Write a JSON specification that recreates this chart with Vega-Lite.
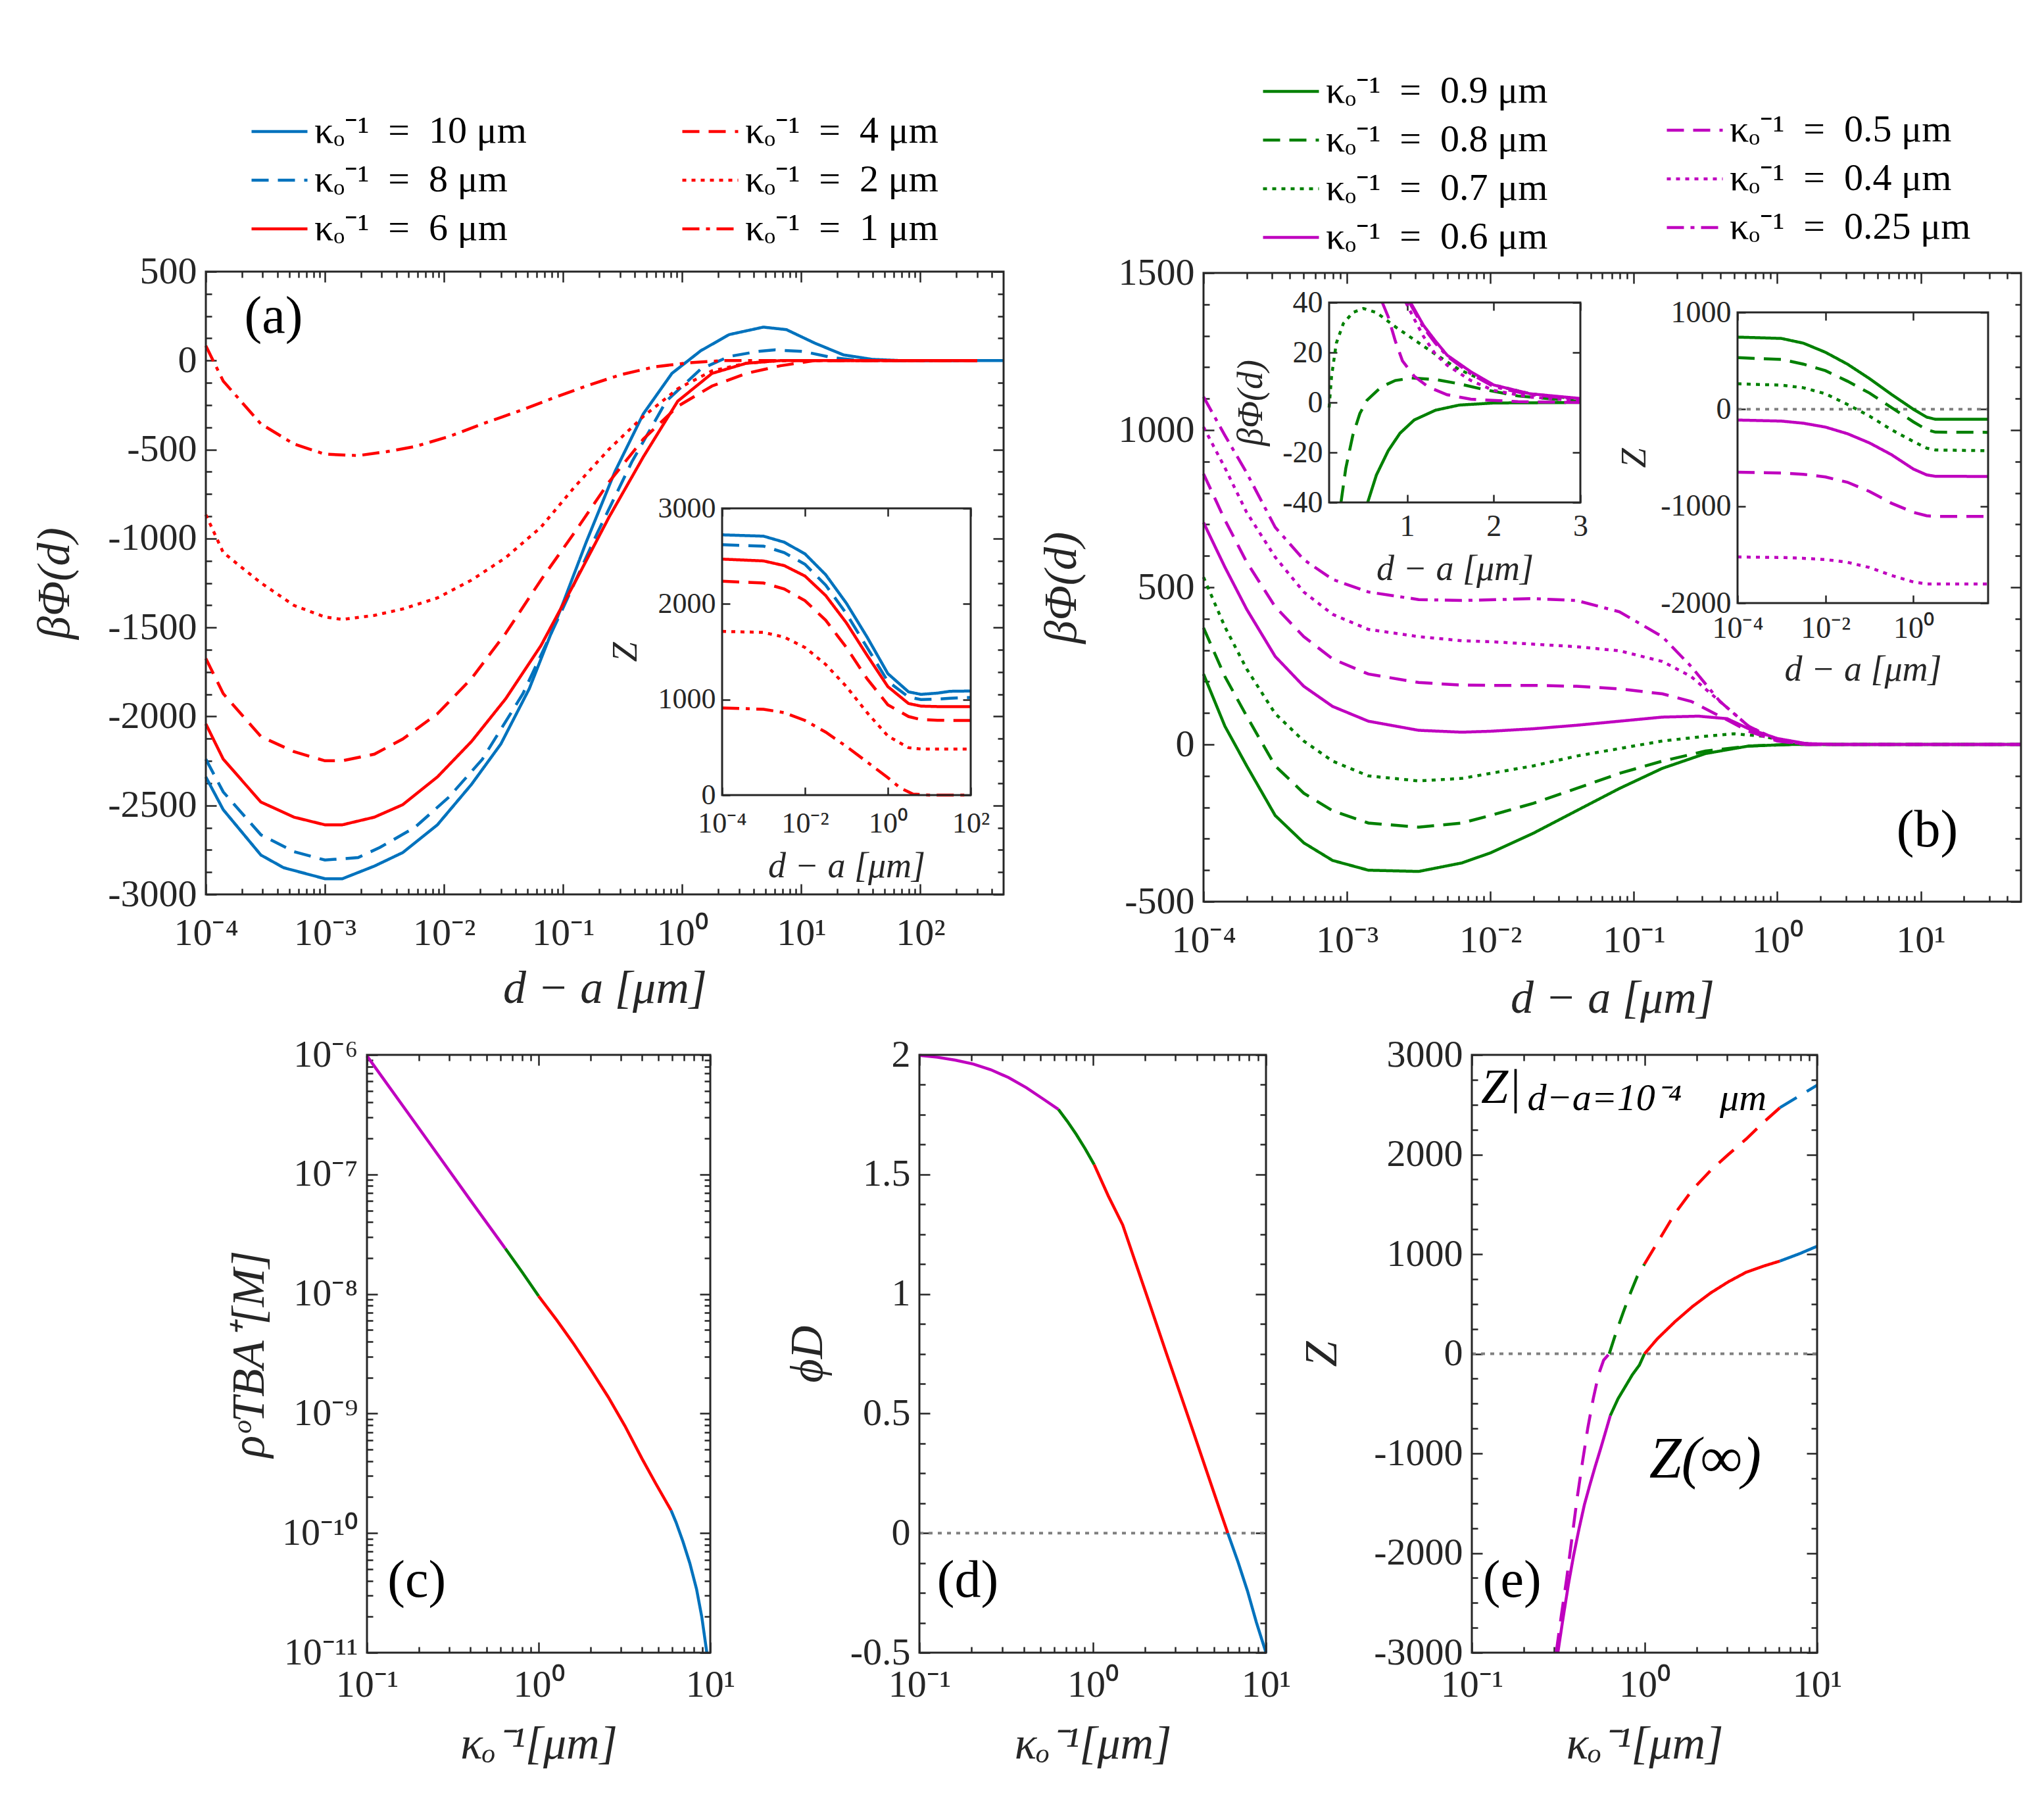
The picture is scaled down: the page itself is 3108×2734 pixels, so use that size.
{
  "$schema": "https://vega.github.io/schema/vega-lite/v6.json",
  "width": 3108,
  "height": 2734,
  "padding": 0,
  "autosize": {"type": "none"},
  "background": "white",
  "config": {
    "view": {"stroke": null},
    "font": "Liberation Serif",
    "axis": {
      "grid": false, "domain": false, "tickColor": "#262626", "tickWidth": 2.5,
      "labelColor": "#262626", "titleColor": "#262626",
      "labelFont": "Liberation Serif", "titleFont": "Liberation Serif",
      "labelFlush": false, "labelOverlap": false, "labelFontSize": 58,
      "titleFontSize": 70, "titleFontWeight": "normal", "titleFontStyle": "italic",
      "tickSize": -16, "labelPadding": 30, "titlePadding": 20
    }
  },
  "datasets": {
    "aMain": [
      {"k":"10","x":1e-4,"y":-2340},{"k":"10","x":1.4e-4,"y":-2524},{"k":"10","x":2.9e-4,"y":-2779},{"k":"10","x":4.5e-4,"y":-2850},{"k":"10","x":1e-3,"y":-2912},{"k":"10","x":1.4e-3,"y":-2912},{"k":"10","x":2.6e-3,"y":-2841},{"k":"10","x":4.5e-3,"y":-2765},{"k":"10","x":8.8e-3,"y":-2609},{"k":"10","x":0.017,"y":-2382},{"k":"10","x":0.03,"y":-2155},{"k":"10","x":0.052,"y":-1844},{"k":"10","x":0.1,"y":-1362},{"k":"10","x":0.156,"y":-1022},{"k":"10","x":0.272,"y":-625},{"k":"10","x":0.472,"y":-299},{"k":"10","x":0.82,"y":-72},{"k":"10","x":1.43,"y":55},{"k":"10","x":2.48,"y":146},{"k":"10","x":4.8,"y":188},{"k":"10","x":7.5,"y":174},{"k":"10","x":13,"y":98},{"k":"10","x":22.6,"y":32},{"k":"10","x":39.4,"y":7},{"k":"10","x":68,"y":0},{"k":"10","x":500,"y":0},
      {"k":"8","x":1e-4,"y":-2240},{"k":"8","x":1.4e-4,"y":-2424},{"k":"8","x":2.9e-4,"y":-2665},{"k":"8","x":5.5e-4,"y":-2760},{"k":"8","x":1e-3,"y":-2807},{"k":"8","x":1.9e-3,"y":-2793},{"k":"8","x":2.9e-3,"y":-2736},{"k":"8","x":5.7e-3,"y":-2623},{"k":"8","x":0.011,"y":-2453},{"k":"8","x":0.021,"y":-2240},{"k":"8","x":0.046,"y":-1872},{"k":"8","x":0.1,"y":-1390},{"k":"8","x":0.195,"y":-965},{"k":"8","x":0.378,"y":-569},{"k":"8","x":0.735,"y":-228},{"k":"8","x":1.43,"y":-48},{"k":"8","x":2.48,"y":23},{"k":"8","x":4.3,"y":51},{"k":"8","x":6,"y":60},{"k":"8","x":10.4,"y":51},{"k":"8","x":18.2,"y":17},{"k":"8","x":31.6,"y":0},{"k":"8","x":300,"y":0},
      {"k":"6","x":1e-4,"y":-2042},{"k":"6","x":1.4e-4,"y":-2240},{"k":"6","x":2.9e-4,"y":-2481},{"k":"6","x":5.5e-4,"y":-2566},{"k":"6","x":1e-3,"y":-2609},{"k":"6","x":1.4e-3,"y":-2609},{"k":"6","x":2.6e-3,"y":-2566},{"k":"6","x":4.5e-3,"y":-2496},{"k":"6","x":8.8e-3,"y":-2340},{"k":"6","x":0.017,"y":-2141},{"k":"6","x":0.033,"y":-1900},{"k":"6","x":0.065,"y":-1603},{"k":"6","x":0.125,"y":-1249},{"k":"6","x":0.243,"y":-880},{"k":"6","x":0.472,"y":-541},{"k":"6","x":0.918,"y":-228},{"k":"6","x":1.78,"y":-72},{"k":"6","x":3.46,"y":-15},{"k":"6","x":6.7,"y":0},{"k":"6","x":300,"y":0},
      {"k":"4","x":1e-4,"y":-1674},{"k":"4","x":1.4e-4,"y":-1872},{"k":"4","x":2.9e-4,"y":-2113},{"k":"4","x":5.5e-4,"y":-2198},{"k":"4","x":1e-3,"y":-2249},{"k":"4","x":1.4e-3,"y":-2249},{"k":"4","x":2.6e-3,"y":-2212},{"k":"4","x":4.5e-3,"y":-2127},{"k":"4","x":8.8e-3,"y":-1985},{"k":"4","x":0.017,"y":-1787},{"k":"4","x":0.033,"y":-1532},{"k":"4","x":0.065,"y":-1234},{"k":"4","x":0.125,"y":-965},{"k":"4","x":0.243,"y":-682},{"k":"4","x":0.472,"y":-441},{"k":"4","x":0.918,"y":-257},{"k":"4","x":1.78,"y":-143},{"k":"4","x":3.46,"y":-72},{"k":"4","x":6.7,"y":-29},{"k":"4","x":13,"y":0},{"k":"4","x":300,"y":0},
      {"k":"2","x":1e-4,"y":-866},{"k":"2","x":1.4e-4,"y":-1079},{"k":"2","x":2.9e-4,"y":-1249},{"k":"2","x":5.5e-4,"y":-1376},{"k":"2","x":1e-3,"y":-1441},{"k":"2","x":1.4e-3,"y":-1455},{"k":"2","x":2.6e-3,"y":-1432},{"k":"2","x":4.5e-3,"y":-1396},{"k":"2","x":8.8e-3,"y":-1334},{"k":"2","x":0.017,"y":-1234},{"k":"2","x":0.033,"y":-1107},{"k":"2","x":0.065,"y":-937},{"k":"2","x":0.125,"y":-710},{"k":"2","x":0.243,"y":-498},{"k":"2","x":0.472,"y":-314},{"k":"2","x":0.918,"y":-158},{"k":"2","x":1.78,"y":-58},{"k":"2","x":3.46,"y":-15},{"k":"2","x":6.7,"y":0},{"k":"2","x":300,"y":0},
      {"k":"1","x":1e-4,"y":83},{"k":"1","x":1.4e-4,"y":-115},{"k":"1","x":2.9e-4,"y":-356},{"k":"1","x":5.5e-4,"y":-469},{"k":"1","x":1e-3,"y":-526},{"k":"1","x":1.9e-3,"y":-534},{"k":"1","x":3.3e-3,"y":-512},{"k":"1","x":5.7e-3,"y":-483},{"k":"1","x":0.011,"y":-427},{"k":"1","x":0.021,"y":-356},{"k":"1","x":0.042,"y":-285},{"k":"1","x":0.08,"y":-214},{"k":"1","x":0.156,"y":-143},{"k":"1","x":0.303,"y":-80},{"k":"1","x":0.589,"y":-35},{"k":"1","x":1.15,"y":-12},{"k":"1","x":2.2,"y":0},{"k":"1","x":300,"y":0}
    ],
    "aIns": [
      {"k":"10","x":1e-4,"y":2723},{"k":"10","x":1e-3,"y":2709},{"k":"10","x":3.16e-3,"y":2646},{"k":"10","x":0.01,"y":2524},{"k":"10","x":0.0316,"y":2306},{"k":"10","x":0.1,"y":2007},{"k":"10","x":0.316,"y":1653},{"k":"10","x":1,"y":1271},{"k":"10","x":3.16,"y":1080},{"k":"10","x":6.31,"y":1054},{"k":"10","x":15.8,"y":1067},{"k":"10","x":31.6,"y":1086},{"k":"10","x":100,"y":1089},
      {"k":"8","x":1e-4,"y":2619},{"k":"8","x":1e-3,"y":2605},{"k":"8","x":3.16e-3,"y":2537},{"k":"8","x":0.01,"y":2415},{"k":"8","x":0.0316,"y":2197},{"k":"8","x":0.1,"y":1898},{"k":"8","x":0.316,"y":1544},{"k":"8","x":1,"y":1190},{"k":"8","x":3.16,"y":1026},{"k":"8","x":6.31,"y":999},{"k":"8","x":15.8,"y":1005},{"k":"8","x":31.6,"y":1013},{"k":"8","x":100,"y":1021},
      {"k":"6","x":1e-4,"y":2469},{"k":"6","x":1e-3,"y":2450},{"k":"6","x":3.16e-3,"y":2401},{"k":"6","x":0.01,"y":2292},{"k":"6","x":0.0316,"y":2088},{"k":"6","x":0.1,"y":1802},{"k":"6","x":0.316,"y":1462},{"k":"6","x":1,"y":1135},{"k":"6","x":3.16,"y":958},{"k":"6","x":6.31,"y":931},{"k":"6","x":15.8,"y":926},{"k":"6","x":31.6,"y":926},{"k":"6","x":100,"y":926},
      {"k":"4","x":1e-4,"y":2238},{"k":"4","x":1e-3,"y":2219},{"k":"4","x":3.16e-3,"y":2156},{"k":"4","x":0.01,"y":2034},{"k":"4","x":0.0316,"y":1830},{"k":"4","x":0.1,"y":1544},{"k":"4","x":0.316,"y":1217},{"k":"4","x":1,"y":945},{"k":"4","x":3.16,"y":822},{"k":"4","x":6.31,"y":790},{"k":"4","x":15.8,"y":783},{"k":"4","x":31.6,"y":781},{"k":"4","x":100,"y":781},
      {"k":"2","x":1e-4,"y":1713},{"k":"2","x":1e-3,"y":1702},{"k":"2","x":3.16e-3,"y":1653},{"k":"2","x":0.01,"y":1544},{"k":"2","x":0.0316,"y":1367},{"k":"2","x":0.1,"y":1135},{"k":"2","x":0.316,"y":863},{"k":"2","x":1,"y":618},{"k":"2","x":3.16,"y":496},{"k":"2","x":6.31,"y":482},{"k":"2","x":15.8,"y":482},{"k":"2","x":31.6,"y":482},{"k":"2","x":100,"y":482},
      {"k":"1","x":1e-4,"y":912},{"k":"1","x":1e-3,"y":898},{"k":"1","x":3.16e-3,"y":863},{"k":"1","x":0.01,"y":781},{"k":"1","x":0.0316,"y":659},{"k":"1","x":0.1,"y":509},{"k":"1","x":0.316,"y":346},{"k":"1","x":1,"y":182},{"k":"1","x":2,"y":74},{"k":"1","x":4,"y":11},{"k":"1","x":10,"y":0},{"k":"1","x":100,"y":0}
    ],
    "bMain": [
      {"k":"0.9","x":1e-4,"y":224},{"k":"0.9","x":1.41e-4,"y":58},{"k":"0.9","x":2e-4,"y":-68},{"k":"0.9","x":3.16e-4,"y":-226},{"k":"0.9","x":5e-4,"y":-313},{"k":"0.9","x":7.94e-4,"y":-369},{"k":"0.9","x":1.41e-3,"y":-400},{"k":"0.9","x":3.16e-3,"y":-404},{"k":"0.9","x":6.31e-3,"y":-377},{"k":"0.9","x":0.01,"y":-345},{"k":"0.9","x":0.02,"y":-282},{"k":"0.9","x":0.0398,"y":-211},{"k":"0.9","x":0.0794,"y":-140},{"k":"0.9","x":0.158,"y":-76},{"k":"0.9","x":0.316,"y":-29},{"k":"0.9","x":0.631,"y":-5},{"k":"0.9","x":1.26,"y":0},{"k":"0.9","x":50,"y":0},
      {"k":"0.8","x":1e-4,"y":371},{"k":"0.8","x":1.41e-4,"y":216},{"k":"0.8","x":2e-4,"y":90},{"k":"0.8","x":3.16e-4,"y":-68},{"k":"0.8","x":5e-4,"y":-155},{"k":"0.8","x":7.94e-4,"y":-211},{"k":"0.8","x":1.41e-3,"y":-250},{"k":"0.8","x":3.16e-3,"y":-263},{"k":"0.8","x":6.31e-3,"y":-250},{"k":"0.8","x":0.01,"y":-226},{"k":"0.8","x":0.02,"y":-187},{"k":"0.8","x":0.0398,"y":-140},{"k":"0.8","x":0.0794,"y":-92},{"k":"0.8","x":0.158,"y":-53},{"k":"0.8","x":0.316,"y":-21},{"k":"0.8","x":0.631,"y":-5},{"k":"0.8","x":1.26,"y":0},{"k":"0.8","x":50,"y":0},
      {"k":"0.7","x":1e-4,"y":532},{"k":"0.7","x":1.41e-4,"y":374},{"k":"0.7","x":2e-4,"y":240},{"k":"0.7","x":3.16e-4,"y":98},{"k":"0.7","x":5e-4,"y":11},{"k":"0.7","x":7.94e-4,"y":-53},{"k":"0.7","x":1.41e-3,"y":-100},{"k":"0.7","x":3.16e-3,"y":-116},{"k":"0.7","x":6.31e-3,"y":-108},{"k":"0.7","x":0.01,"y":-92},{"k":"0.7","x":0.02,"y":-68},{"k":"0.7","x":0.0398,"y":-37},{"k":"0.7","x":0.0794,"y":-13},{"k":"0.7","x":0.158,"y":11},{"k":"0.7","x":0.316,"y":26},{"k":"0.7","x":0.501,"y":34},{"k":"0.7","x":0.794,"y":26},{"k":"0.7","x":1.26,"y":6},{"k":"0.7","x":2,"y":0},{"k":"0.7","x":50,"y":0},
      {"k":"0.6","x":1e-4,"y":706},{"k":"0.6","x":1.41e-4,"y":564},{"k":"0.6","x":2e-4,"y":430},{"k":"0.6","x":3.16e-4,"y":280},{"k":"0.6","x":5e-4,"y":185},{"k":"0.6","x":7.94e-4,"y":121},{"k":"0.6","x":1.41e-3,"y":74},{"k":"0.6","x":3.16e-3,"y":45},{"k":"0.6","x":6.31e-3,"y":39},{"k":"0.6","x":0.01,"y":42},{"k":"0.6","x":0.02,"y":50},{"k":"0.6","x":0.0398,"y":61},{"k":"0.6","x":0.0794,"y":74},{"k":"0.6","x":0.158,"y":87},{"k":"0.6","x":0.282,"y":90},{"k":"0.6","x":0.447,"y":82},{"k":"0.6","x":0.631,"y":50},{"k":"0.6","x":1,"y":19},{"k":"0.6","x":1.58,"y":3},{"k":"0.6","x":2.51,"y":0},{"k":"0.6","x":50,"y":0},
      {"k":"0.5","x":1e-4,"y":861},{"k":"0.5","x":1.41e-4,"y":714},{"k":"0.5","x":2e-4,"y":580},{"k":"0.5","x":3.16e-4,"y":438},{"k":"0.5","x":5e-4,"y":343},{"k":"0.5","x":7.94e-4,"y":272},{"k":"0.5","x":1.41e-3,"y":224},{"k":"0.5","x":3.16e-3,"y":197},{"k":"0.5","x":6.31e-3,"y":189},{"k":"0.5","x":0.01,"y":188},{"k":"0.5","x":0.02,"y":188},{"k":"0.5","x":0.0398,"y":185},{"k":"0.5","x":0.0794,"y":177},{"k":"0.5","x":0.158,"y":161},{"k":"0.5","x":0.251,"y":137},{"k":"0.5","x":0.398,"y":90},{"k":"0.5","x":0.631,"y":42},{"k":"0.5","x":1,"y":11},{"k":"0.5","x":1.58,"y":0},{"k":"0.5","x":50,"y":0},
      {"k":"0.4","x":1e-4,"y":1010},{"k":"0.4","x":1.41e-4,"y":880},{"k":"0.4","x":2e-4,"y":738},{"k":"0.4","x":3.16e-4,"y":596},{"k":"0.4","x":5e-4,"y":485},{"k":"0.4","x":7.94e-4,"y":414},{"k":"0.4","x":1.41e-3,"y":366},{"k":"0.4","x":3.16e-3,"y":343},{"k":"0.4","x":6.31e-3,"y":330},{"k":"0.4","x":0.01,"y":327},{"k":"0.4","x":0.02,"y":319},{"k":"0.4","x":0.0398,"y":311},{"k":"0.4","x":0.0794,"y":298},{"k":"0.4","x":0.158,"y":264},{"k":"0.4","x":0.251,"y":216},{"k":"0.4","x":0.398,"y":137},{"k":"0.4","x":0.631,"y":58},{"k":"0.4","x":1,"y":14},{"k":"0.4","x":1.58,"y":0},{"k":"0.4","x":50,"y":0},
      {"k":"0.25","x":1e-4,"y":1106},{"k":"0.25","x":1.41e-4,"y":983},{"k":"0.25","x":2e-4,"y":864},{"k":"0.25","x":3.16e-4,"y":691},{"k":"0.25","x":5e-4,"y":588},{"k":"0.25","x":7.94e-4,"y":525},{"k":"0.25","x":1.41e-3,"y":485},{"k":"0.25","x":3.16e-3,"y":461},{"k":"0.25","x":6.31e-3,"y":458},{"k":"0.25","x":0.01,"y":460},{"k":"0.25","x":0.02,"y":464},{"k":"0.25","x":0.0398,"y":458},{"k":"0.25","x":0.0794,"y":422},{"k":"0.25","x":0.158,"y":343},{"k":"0.25","x":0.251,"y":248},{"k":"0.25","x":0.398,"y":137},{"k":"0.25","x":0.631,"y":58},{"k":"0.25","x":1,"y":14},{"k":"0.25","x":1.58,"y":0},{"k":"0.25","x":50,"y":0}
    ],
    "bLeft": [
      {"k":"0.9","x":0.545,"y":-40},{"k":"0.9","x":0.646,"y":-29},{"k":"0.9","x":0.782,"y":-19.3},{"k":"0.9","x":0.918,"y":-12.3},{"k":"0.9","x":1.082,"y":-7},{"k":"0.9","x":1.327,"y":-3.1},{"k":"0.9","x":1.6,"y":-1.05},{"k":"0.9","x":2,"y":-0.2},{"k":"0.9","x":3,"y":0},
      {"k":"0.8","x":0.237,"y":-40},{"k":"0.8","x":0.292,"y":-26.4},{"k":"0.8","x":0.373,"y":-13.2},{"k":"0.8","x":0.455,"y":-4.4},{"k":"0.8","x":0.537,"y":0.9},{"k":"0.8","x":0.7,"y":6.2},{"k":"0.8","x":0.864,"y":8.8},{"k":"0.8","x":1.054,"y":9.8},{"k":"0.8","x":1.327,"y":9.2},{"k":"0.8","x":1.6,"y":7.5},{"k":"0.8","x":1.872,"y":5.3},{"k":"0.8","x":2.28,"y":2.6},{"k":"0.8","x":3,"y":0.4},
      {"k":"0.7","x":0.1,"y":-2},{"k":"0.7","x":0.128,"y":10.5},{"k":"0.7","x":0.183,"y":23.7},{"k":"0.7","x":0.264,"y":31.6},{"k":"0.7","x":0.373,"y":36},{"k":"0.7","x":0.496,"y":37.6},{"k":"0.7","x":0.646,"y":36},{"k":"0.7","x":0.864,"y":30.3},{"k":"0.7","x":1.082,"y":25.1},{"k":"0.7","x":1.327,"y":19.3},{"k":"0.7","x":1.6,"y":13.2},{"k":"0.7","x":2,"y":7},{"k":"0.7","x":2.417,"y":3.5},{"k":"0.7","x":3,"y":1.3},
      {"k":"0.6","x":1.04,"y":40},{"k":"0.6","x":1.19,"y":30.8},{"k":"0.6","x":1.327,"y":24.6},{"k":"0.6","x":1.463,"y":18.9},{"k":"0.6","x":1.736,"y":12.3},{"k":"0.6","x":2,"y":7},{"k":"0.6","x":2.417,"y":3.5},{"k":"0.6","x":3,"y":1.6},
      {"k":"0.5","x":0.714,"y":40},{"k":"0.5","x":0.782,"y":34.3},{"k":"0.5","x":0.864,"y":24.6},{"k":"0.5","x":0.946,"y":16.7},{"k":"0.5","x":1.082,"y":10.5},{"k":"0.5","x":1.245,"y":6.2},{"k":"0.5","x":1.463,"y":3.1},{"k":"0.5","x":1.736,"y":1.3},{"k":"0.5","x":2.28,"y":0.3},{"k":"0.5","x":3,"y":0},
      {"k":"0.4","x":0.986,"y":40},{"k":"0.4","x":1.082,"y":33.4},{"k":"0.4","x":1.19,"y":26.4},{"k":"0.4","x":1.327,"y":19.3},{"k":"0.4","x":1.463,"y":14.9},{"k":"0.4","x":1.736,"y":8.8},{"k":"0.4","x":2,"y":4.8},{"k":"0.4","x":2.417,"y":2.2},{"k":"0.4","x":3,"y":0.6},
      {"k":"0.25","x":1.027,"y":40},{"k":"0.25","x":1.19,"y":29.9},{"k":"0.25","x":1.327,"y":23.7},{"k":"0.25","x":1.463,"y":18.5},{"k":"0.25","x":1.736,"y":11.4},{"k":"0.25","x":2,"y":6.3},{"k":"0.25","x":2.417,"y":3.1},{"k":"0.25","x":3,"y":1.3}
    ],
    "bRight": [
      {"k":"0.9","x":1e-4,"y":745},{"k":"0.9","x":1e-3,"y":731},{"k":"0.9","x":3.16e-3,"y":682},{"k":"0.9","x":0.01,"y":588},{"k":"0.9","x":0.0316,"y":466},{"k":"0.9","x":0.1,"y":317},{"k":"0.9","x":0.316,"y":154},{"k":"0.9","x":1,"y":0},{"k":"0.9","x":2,"y":-81},{"k":"0.9","x":3.16,"y":-103},{"k":"0.9","x":50,"y":-103},
      {"k":"0.8","x":1e-4,"y":533},{"k":"0.8","x":1e-3,"y":514},{"k":"0.8","x":3.16e-3,"y":466},{"k":"0.8","x":0.01,"y":398},{"k":"0.8","x":0.0316,"y":290},{"k":"0.8","x":0.1,"y":168},{"k":"0.8","x":0.316,"y":19},{"k":"0.8","x":1,"y":-130},{"k":"0.8","x":2,"y":-211},{"k":"0.8","x":3.16,"y":-236},{"k":"0.8","x":50,"y":-238},
      {"k":"0.7","x":1e-4,"y":263},{"k":"0.7","x":1e-3,"y":249},{"k":"0.7","x":3.16e-3,"y":222},{"k":"0.7","x":0.01,"y":160},{"k":"0.7","x":0.0316,"y":50},{"k":"0.7","x":0.1,"y":-70},{"k":"0.7","x":0.316,"y":-211},{"k":"0.7","x":1,"y":-333},{"k":"0.7","x":2,"y":-401},{"k":"0.7","x":3.16,"y":-420},{"k":"0.7","x":50,"y":-428},
      {"k":"0.6","x":1e-4,"y":-111},{"k":"0.6","x":1e-3,"y":-122},{"k":"0.6","x":3.16e-3,"y":-144},{"k":"0.6","x":0.01,"y":-184},{"k":"0.6","x":0.0316,"y":-252},{"k":"0.6","x":0.1,"y":-347},{"k":"0.6","x":0.316,"y":-468},{"k":"0.6","x":1,"y":-617},{"k":"0.6","x":2,"y":-677},{"k":"0.6","x":3.16,"y":-692},{"k":"0.6","x":50,"y":-693},
      {"k":"0.5","x":1e-4,"y":-650},{"k":"0.5","x":1e-3,"y":-658},{"k":"0.5","x":3.16e-3,"y":-671},{"k":"0.5","x":0.01,"y":-699},{"k":"0.5","x":0.0316,"y":-753},{"k":"0.5","x":0.1,"y":-848},{"k":"0.5","x":0.316,"y":-969},{"k":"0.5","x":1,"y":-1064},{"k":"0.5","x":2,"y":-1099},{"k":"0.5","x":3.16,"y":-1105},{"k":"0.5","x":50,"y":-1105},
      {"k":"0.4","x":1e-4,"y":-1524},{"k":"0.4","x":1e-3,"y":-1530},{"k":"0.4","x":3.16e-3,"y":-1538},{"k":"0.4","x":0.01,"y":-1551},{"k":"0.4","x":0.0316,"y":-1579},{"k":"0.4","x":0.1,"y":-1633},{"k":"0.4","x":0.316,"y":-1714},{"k":"0.4","x":1,"y":-1782},{"k":"0.4","x":2,"y":-1803},{"k":"0.4","x":3.16,"y":-1803},{"k":"0.4","x":50,"y":-1803}
    ],
    "cRho": [
      {"s":"m","x":0.1,"y":9.8e-7},{"s":"m","x":0.2,"y":2.45e-7},{"s":"m","x":0.4,"y":6.1e-8},{"s":"m","x":0.64,"y":2.4e-8},
      {"s":"g","x":0.64,"y":2.4e-8},{"s":"g","x":0.8,"y":1.53e-8},{"s":"g","x":1.0,"y":9.6e-9},
      {"s":"r","x":1.0,"y":9.6e-9},{"s":"r","x":1.28,"y":6.0e-9},{"s":"r","x":1.61,"y":3.78e-9},{"s":"r","x":2.02,"y":2.31e-9},{"s":"r","x":2.54,"y":1.38e-9},{"s":"r","x":3.18,"y":7.9e-10},{"s":"r","x":4.0,"y":4.2e-10},{"s":"r","x":4.81,"y":2.6e-10},{"s":"r","x":5.91,"y":1.55e-10},
      {"s":"b","x":5.91,"y":1.55e-10},{"s":"b","x":6.32,"y":1.23e-10},{"s":"b","x":6.93,"y":8.5e-11},{"s":"b","x":7.6,"y":5.6e-11},{"s":"b","x":8.32,"y":3.4e-11},{"s":"b","x":8.92,"y":2.0e-11},{"s":"b","x":9.55,"y":1e-11}
    ],
    "dPhi": [
      {"s":"m","x":0.1,"y":1.998},{"s":"m","x":0.127,"y":1.99},{"s":"m","x":0.161,"y":1.978},{"s":"m","x":0.204,"y":1.962},{"s":"m","x":0.258,"y":1.938},{"s":"m","x":0.327,"y":1.905},{"s":"m","x":0.414,"y":1.863},{"s":"m","x":0.524,"y":1.813},{"s":"m","x":0.634,"y":1.772},
      {"s":"g","x":0.634,"y":1.772},{"s":"g","x":0.714,"y":1.722},{"s":"g","x":0.803,"y":1.668},{"s":"g","x":0.905,"y":1.607},{"s":"g","x":1.02,"y":1.541},
      {"s":"r","x":1.02,"y":1.541},{"s":"r","x":1.23,"y":1.41},{"s":"r","x":1.49,"y":1.289},{"s":"r","x":1.79,"y":1.119},{"s":"r","x":2.17,"y":0.942},{"s":"r","x":2.63,"y":0.763},{"s":"r","x":3.18,"y":0.589},{"s":"r","x":3.85,"y":0.413},{"s":"r","x":4.65,"y":0.238},{"s":"r","x":5.35,"y":0.108},{"s":"r","x":6.02,"y":0},
      {"s":"b","x":6.02,"y":0},{"s":"b","x":6.9,"y":-0.121},{"s":"b","x":7.82,"y":-0.242},{"s":"b","x":8.8,"y":-0.373},{"s":"b","x":10,"y":-0.5}
    ],
    "eZ": [
      {"c":"inf","s":"m","x":0.315,"y":-3000},{"c":"inf","s":"m","x":0.338,"y":-2648},{"c":"inf","s":"m","x":0.363,"y":-2310},{"c":"inf","s":"m","x":0.389,"y":-2020},{"c":"inf","s":"m","x":0.418,"y":-1755},{"c":"inf","s":"m","x":0.449,"y":-1513},{"c":"inf","s":"m","x":0.482,"y":-1320},{"c":"inf","s":"m","x":0.517,"y":-1137},{"c":"inf","s":"m","x":0.556,"y":-958},{"c":"inf","s":"m","x":0.596,"y":-780},{"c":"inf","s":"m","x":0.634,"y":-620},
      {"c":"inf","s":"g","x":0.634,"y":-620},{"c":"inf","s":"g","x":0.703,"y":-451},{"c":"inf","s":"g","x":0.774,"y":-330},{"c":"inf","s":"g","x":0.851,"y":-210},{"c":"inf","s":"g","x":0.935,"y":-113},{"c":"inf","s":"g","x":1.0,"y":0},
      {"c":"inf","s":"r","x":1.0,"y":0},{"c":"inf","s":"r","x":1.19,"y":152},{"c":"inf","s":"r","x":1.5,"y":321},{"c":"inf","s":"r","x":1.9,"y":475},{"c":"inf","s":"r","x":2.42,"y":611},{"c":"inf","s":"r","x":3.06,"y":722},{"c":"inf","s":"r","x":3.88,"y":818},{"c":"inf","s":"r","x":4.9,"y":880},{"c":"inf","s":"r","x":6.08,"y":930},
      {"c":"inf","s":"b","x":6.08,"y":930},{"c":"inf","s":"b","x":7.93,"y":1005},{"c":"inf","s":"b","x":10,"y":1079},
      {"c":"d4","s":"m","x":0.308,"y":-3000},{"c":"d4","s":"m","x":0.33,"y":-2624},{"c":"d4","s":"m","x":0.354,"y":-2262},{"c":"d4","s":"m","x":0.38,"y":-1852},{"c":"d4","s":"m","x":0.408,"y":-1441},{"c":"d4","s":"m","x":0.438,"y":-1079},{"c":"d4","s":"m","x":0.47,"y":-741},{"c":"d4","s":"m","x":0.505,"y":-451},{"c":"d4","s":"m","x":0.542,"y":-209},{"c":"d4","s":"m","x":0.58,"y":-64},{"c":"d4","s":"m","x":0.625,"y":0},
      {"c":"d4","s":"g","x":0.625,"y":0},{"c":"d4","s":"g","x":0.688,"y":224},{"c":"d4","s":"g","x":0.754,"y":418},{"c":"d4","s":"g","x":0.83,"y":611},{"c":"d4","s":"g","x":0.91,"y":780},{"c":"d4","s":"g","x":1.0,"y":900},
      {"c":"d4","s":"r","x":1.0,"y":900},{"c":"d4","s":"r","x":1.19,"y":1117},{"c":"d4","s":"r","x":1.5,"y":1407},{"c":"d4","s":"r","x":1.9,"y":1648},{"c":"d4","s":"r","x":2.42,"y":1841},{"c":"d4","s":"r","x":3.06,"y":2000},{"c":"d4","s":"r","x":3.88,"y":2155},{"c":"d4","s":"r","x":4.9,"y":2324},{"c":"d4","s":"r","x":6.08,"y":2469},
      {"c":"d4","s":"b","x":6.08,"y":2469},{"c":"d4","s":"b","x":7.93,"y":2590},{"c":"d4","s":"b","x":10,"y":2696}
    ]
  },
  "layer": [
    {
      "layer": [
        {
          "data": {"name": "aMain"},
          "mark": {"type": "line", "strokeWidth": 4.5},
          "encoding": {
            "x": {"field": "x", "type": "quantitative",
              "scale": {"type": "log", "domain": [1e-4, 500], "range": [313, 1526], "nice": false},
              "axis": {"orient": "bottom", "offset": -1374, "values": [1e-4, 1e-3, 0.01, 0.1, 1, 10, 100], "title": "d − a [μm]", "labelPadding": 46, "titlePadding": 21,
                "labelExpr": "'10' + (round(log(datum.value)/LN10) < 0 ? '⁻' : '') + ['⁰','¹','²','³','⁴','⁵','⁶','⁷','⁸','⁹'][abs(round(log(datum.value)/LN10)) % 10]"}},
            "y": {"field": "y", "type": "quantitative",
              "scale": {"domain": [-3000, 500], "range": [1360, 413], "nice": false, "zero": false},
              "axis": {"orient": "left", "offset": -313, "values": [-3000, -2500, -2000, -1500, -1000, -500, 0, 500], "labelExpr": "toString(datum.value)", "title": "βΦ(d)", "titlePadding": 44}},
            "color": {"field": "k", "type": "nominal",
              "scale": {"domain": ["10", "8", "6", "4", "2", "1"], "range": ["#0072BD", "#0072BD", "#FF0000", "#FF0000", "#FF0000", "#FF0000"]},
              "legend": {"orient": "none", "legendX": 380, "legendY": 155, "columns": 2, "columnPadding": 227, "rowPadding": -18, "title": null, "symbolType": "stroke", "symbolSize": 7225, "symbolStrokeWidth": 4.5, "labelFontSize": 58, "labelFont": "Liberation Serif", "labelColor": "black", "labelOffset": 8, "labelLimit": 0, "padding": 0, "labelExpr": "'κₒ⁻¹\u00a0\u00a0=\u00a0\u00a0' + datum.label + '\u00a0μm'"}},
            "strokeDash": {"field": "k", "type": "nominal",
              "scale": {"domain": ["10", "8", "6", "4", "2", "1"], "range": [[1, 0], [26, 14], [1, 0], [26, 14], [6, 8], [26, 10, 6, 10]]},
              "legend": {"orient": "none", "legendX": 380, "legendY": 155, "columns": 2, "columnPadding": 227, "rowPadding": -18, "title": null, "symbolType": "stroke", "symbolSize": 7225, "symbolStrokeWidth": 4.5, "labelFontSize": 58, "labelFont": "Liberation Serif", "labelColor": "black", "labelOffset": 8, "labelLimit": 0, "padding": 0, "labelExpr": "'κₒ⁻¹\u00a0\u00a0=\u00a0\u00a0' + datum.label + '\u00a0μm'"}}
          }
        },
        {
          "data": {"values": [{}]},
          "mark": {"type": "rect", "filled": false, "stroke": "#262626", "strokeWidth": 3},
          "encoding": {
            "x": {"datum": 1e-4, "type": "quantitative", "scale": {"type": "log"}, "axis": {"orient": "top", "offset": -413, "values": [1e-4, 1e-3, 0.01, 0.1, 1, 10, 100], "labels": false, "title": null}},
            "x2": {"datum": 500},
            "y": {"datum": -3000, "type": "quantitative", "axis": {"orient": "right", "offset": -1582, "values": [-3000, -2500, -2000, -1500, -1000, -500, 0, 500], "labels": false, "title": null}},
            "y2": {"datum": 500}
          }
        },
        {
          "data": {"values": [{}]},
          "mark": {"type": "point", "opacity": 0},
          "encoding": {
            "x": {"datum": 1, "type": "quantitative", "scale": {"type": "log"}, "axis": {"orient": "bottom", "offset": -1374, "tickSize": -9, "labels": false, "title": null, "values": [2e-4,3e-4,4e-4,5e-4,6e-4,7e-4,8e-4,9e-4,2e-3,3e-3,4e-3,5e-3,6e-3,7e-3,8e-3,9e-3,0.02,0.03,0.04,0.05,0.06,0.07,0.08,0.09,0.2,0.3,0.4,0.5,0.6,0.7,0.8,0.9,2,3,4,5,6,7,8,9,20,30,40,50,60,70,80,90,200,300,400]}},
            "y": {"datum": 0, "type": "quantitative", "axis": {"orient": "left", "offset": -313, "tickSize": -9, "labels": false, "title": null, "values": [-2875,-2750,-2625,-2375,-2250,-2125,-1875,-1750,-1625,-1375,-1250,-1125,-875,-750,-625,-375,-250,-125,125,250,375]}}
          }
        },
        {
          "data": {"values": [{}]},
          "mark": {"type": "point", "opacity": 0},
          "encoding": {
            "x": {"datum": 1, "type": "quantitative", "scale": {"type": "log"}, "axis": {"orient": "top", "offset": -413, "tickSize": -9, "labels": false, "title": null, "values": [2e-4,3e-4,4e-4,5e-4,6e-4,7e-4,8e-4,9e-4,2e-3,3e-3,4e-3,5e-3,6e-3,7e-3,8e-3,9e-3,0.02,0.03,0.04,0.05,0.06,0.07,0.08,0.09,0.2,0.3,0.4,0.5,0.6,0.7,0.8,0.9,2,3,4,5,6,7,8,9,20,30,40,50,60,70,80,90,200,300,400]}},
            "y": {"datum": 0, "type": "quantitative", "axis": {"orient": "right", "offset": -1582, "tickSize": -9, "labels": false, "title": null, "values": [-2875,-2750,-2625,-2375,-2250,-2125,-1875,-1750,-1625,-1375,-1250,-1125,-875,-750,-625,-375,-250,-125,125,250,375]}}
          }
        },
        {
          "data": {"values": [{}]},
          "mark": {"type": "text", "text": "(a)", "fontSize": 80, "font": "Liberation Serif", "color": "black"},
          "encoding": {
            "x": {"datum": 3.7e-4, "type": "quantitative", "scale": {"type": "log"}, "axis": null},
            "y": {"datum": 245, "type": "quantitative", "axis": null}
          }
        }
      ],
      "resolve": {"axis": {"x": "independent", "y": "independent"}}
    },
    {
      "layer": [
        {
          "data": {"name": "aIns"},
          "mark": {"type": "line", "strokeWidth": 4.5},
          "encoding": {
            "x": {"field": "x", "type": "quantitative",
              "scale": {"type": "log", "domain": [1e-4, 100], "range": [1098, 1476], "nice": false},
              "axis": {"orient": "bottom", "offset": -1525, "values": [1e-4, 0.01, 1, 100], "title": "d − a [μm]", "labelFontSize": 44, "titleFontSize": 54, "tickSize": -12, "labelPadding": 33, "titlePadding": 16,
                "labelExpr": "'10' + (round(log(datum.value)/LN10) < 0 ? '⁻' : '') + ['⁰','¹','²','³','⁴','⁵','⁶','⁷','⁸','⁹'][abs(round(log(datum.value)/LN10)) % 10]"}},
            "y": {"field": "y", "type": "quantitative",
              "scale": {"domain": [0, 3000], "range": [1209, 773], "nice": false, "zero": false},
              "axis": {"orient": "left", "offset": -1098, "values": [0, 1000, 2000, 3000], "labelExpr": "toString(datum.value)", "title": "Z", "labelFontSize": 44, "titleFontSize": 54, "tickSize": -12, "labelPadding": 22, "titlePadding": 22}},
            "color": {"field": "k", "type": "nominal", "legend": null,
              "scale": {"domain": ["10", "8", "6", "4", "2", "1"], "range": ["#0072BD", "#0072BD", "#FF0000", "#FF0000", "#FF0000", "#FF0000"]}},
            "strokeDash": {"field": "k", "type": "nominal", "legend": null,
              "scale": {"domain": ["10", "8", "6", "4", "2", "1"], "range": [[1, 0], [26, 14], [1, 0], [26, 14], [6, 8], [26, 10, 6, 10]]}}
          }
        },
        {
          "data": {"values": [{}]},
          "mark": {"type": "rect", "filled": false, "stroke": "#262626", "strokeWidth": 3},
          "encoding": {
            "x": {"datum": 1e-4, "type": "quantitative", "scale": {"type": "log"}, "axis": {"orient": "top", "offset": -773, "values": [1e-4, 0.01, 1, 100], "labels": false, "title": null, "tickSize": -12}},
            "x2": {"datum": 100},
            "y": {"datum": 0, "type": "quantitative", "axis": {"orient": "right", "offset": -1632, "values": [0, 1000, 2000, 3000], "labels": false, "title": null, "tickSize": -12}},
            "y2": {"datum": 3000}
          }
        }
      ],
      "resolve": {"axis": {"x": "independent", "y": "independent"}}
    },
    {
      "layer": [
        {
          "data": {"name": "bMain"},
          "transform": [{"filter": {"field": "k", "oneOf": ["0.9", "0.8", "0.7", "0.6"]}}],
          "mark": {"type": "line", "strokeWidth": 4.5},
          "encoding": {
            "x": {"field": "x", "type": "quantitative",
              "scale": {"type": "log", "domain": [1e-4, 50], "range": [1830, 3073], "nice": false},
              "axis": {"orient": "bottom", "offset": -1363, "values": [1e-4, 1e-3, 0.01, 0.1, 1, 10], "title": "d − a [μm]", "labelPadding": 46, "titlePadding": 25,
                "labelExpr": "'10' + (round(log(datum.value)/LN10) < 0 ? '⁻' : '') + ['⁰','¹','²','³','⁴','⁵','⁶','⁷','⁸','⁹'][abs(round(log(datum.value)/LN10)) % 10]"}},
            "y": {"field": "y", "type": "quantitative",
              "scale": {"domain": [-500, 1500], "range": [1371, 415], "nice": false, "zero": false},
              "axis": {"orient": "left", "offset": -1830, "values": [-500, 0, 500, 1000, 1500], "labelExpr": "toString(datum.value)", "title": "βΦ(d)", "titlePadding": 50}},
            "color": {"field": "k", "type": "nominal",
              "scale": {"domain": ["0.9", "0.8", "0.7", "0.6"], "range": ["#008000", "#008000", "#008000", "#BF00BF"]},
              "legend": {"orient": "none", "legendX": 1918, "legendY": 94, "columns": 1, "rowPadding": -19, "title": null, "symbolType": "stroke", "symbolSize": 7225, "symbolStrokeWidth": 4.5, "labelFontSize": 58, "labelFont": "Liberation Serif", "labelColor": "black", "labelOffset": 8, "labelLimit": 0, "padding": 0, "labelExpr": "'κₒ⁻¹\u00a0\u00a0=\u00a0\u00a0' + datum.label + '\u00a0μm'"}},
            "strokeDash": {"field": "k", "type": "nominal",
              "scale": {"domain": ["0.9", "0.8", "0.7", "0.6"], "range": [[1, 0], [26, 14], [6, 8], [1, 0]]},
              "legend": {"orient": "none", "legendX": 1918, "legendY": 94, "columns": 1, "rowPadding": -19, "title": null, "symbolType": "stroke", "symbolSize": 7225, "symbolStrokeWidth": 4.5, "labelFontSize": 58, "labelFont": "Liberation Serif", "labelColor": "black", "labelOffset": 8, "labelLimit": 0, "padding": 0, "labelExpr": "'κₒ⁻¹\u00a0\u00a0=\u00a0\u00a0' + datum.label + '\u00a0μm'"}}
          }
        },
        {
          "data": {"name": "bMain"},
          "transform": [{"filter": {"field": "k", "oneOf": ["0.5", "0.4", "0.25"]}}],
          "mark": {"type": "line", "strokeWidth": 4.5},
          "encoding": {
            "x": {"field": "x", "type": "quantitative", "scale": {"type": "log", "domain": [1e-4, 50], "range": [1830, 3073], "nice": false}, "axis": null},
            "y": {"field": "y", "type": "quantitative", "scale": {"domain": [-500, 1500], "range": [1371, 415], "nice": false, "zero": false}, "axis": null},
            "color": {"field": "k", "type": "nominal",
              "scale": {"domain": ["0.5", "0.4", "0.25"], "range": ["#BF00BF", "#BF00BF", "#BF00BF"]},
              "legend": {"orient": "none", "legendX": 2532, "legendY": 153, "columns": 1, "rowPadding": -18, "title": null, "symbolType": "stroke", "symbolSize": 7225, "symbolStrokeWidth": 4.5, "labelFontSize": 58, "labelFont": "Liberation Serif", "labelColor": "black", "labelOffset": 8, "labelLimit": 0, "padding": 0, "labelExpr": "'κₒ⁻¹\u00a0\u00a0=\u00a0\u00a0' + datum.label + '\u00a0μm'"}},
            "strokeDash": {"field": "k", "type": "nominal",
              "scale": {"domain": ["0.5", "0.4", "0.25"], "range": [[26, 14], [6, 8], [26, 10, 6, 10]]},
              "legend": {"orient": "none", "legendX": 2532, "legendY": 153, "columns": 1, "rowPadding": -18, "title": null, "symbolType": "stroke", "symbolSize": 7225, "symbolStrokeWidth": 4.5, "labelFontSize": 58, "labelFont": "Liberation Serif", "labelColor": "black", "labelOffset": 8, "labelLimit": 0, "padding": 0, "labelExpr": "'κₒ⁻¹\u00a0\u00a0=\u00a0\u00a0' + datum.label + '\u00a0μm'"}}
          }
        },
        {
          "data": {"values": [{}]},
          "mark": {"type": "rect", "filled": false, "stroke": "#262626", "strokeWidth": 3},
          "encoding": {
            "x": {"datum": 1e-4, "type": "quantitative", "scale": {"type": "log"}, "axis": {"orient": "top", "offset": -415, "values": [1e-4, 1e-3, 0.01, 0.1, 1, 10], "labels": false, "title": null}},
            "x2": {"datum": 50},
            "y": {"datum": -500, "type": "quantitative", "axis": {"orient": "right", "offset": -35, "values": [-500, 0, 500, 1000, 1500], "labels": false, "title": null}},
            "y2": {"datum": 1500}
          }
        },
        {
          "data": {"values": [{}]},
          "mark": {"type": "point", "opacity": 0},
          "encoding": {
            "x": {"datum": 1, "type": "quantitative", "scale": {"type": "log"}, "axis": {"orient": "bottom", "offset": -1363, "tickSize": -9, "labels": false, "title": null, "values": [2e-4,3e-4,4e-4,5e-4,6e-4,7e-4,8e-4,9e-4,2e-3,3e-3,4e-3,5e-3,6e-3,7e-3,8e-3,9e-3,0.02,0.03,0.04,0.05,0.06,0.07,0.08,0.09,0.2,0.3,0.4,0.5,0.6,0.7,0.8,0.9,2,3,4,5,6,7,8,9,20,30,40]}},
            "y": {"datum": 0, "type": "quantitative", "axis": {"orient": "left", "offset": -1830, "tickSize": -9, "labels": false, "title": null, "values": [-400,-300,-200,-100,100,200,300,400,600,700,800,900,1100,1200,1300,1400]}}
          }
        },
        {
          "data": {"values": [{}]},
          "mark": {"type": "point", "opacity": 0},
          "encoding": {
            "x": {"datum": 1, "type": "quantitative", "scale": {"type": "log"}, "axis": {"orient": "top", "offset": -415, "tickSize": -9, "labels": false, "title": null, "values": [2e-4,3e-4,4e-4,5e-4,6e-4,7e-4,8e-4,9e-4,2e-3,3e-3,4e-3,5e-3,6e-3,7e-3,8e-3,9e-3,0.02,0.03,0.04,0.05,0.06,0.07,0.08,0.09,0.2,0.3,0.4,0.5,0.6,0.7,0.8,0.9,2,3,4,5,6,7,8,9,20,30,40]}},
            "y": {"datum": 0, "type": "quantitative", "axis": {"orient": "right", "offset": -35, "tickSize": -9, "labels": false, "title": null, "values": [-400,-300,-200,-100,100,200,300,400,600,700,800,900,1100,1200,1300,1400]}}
          }
        },
        {
          "data": {"values": [{}]},
          "mark": {"type": "text", "text": "(b)", "fontSize": 80, "font": "Liberation Serif", "color": "black"},
          "encoding": {
            "x": {"datum": 11.1, "type": "quantitative", "scale": {"type": "log"}, "axis": null},
            "y": {"datum": -274, "type": "quantitative", "axis": null}
          }
        }
      ],
      "resolve": {"axis": {"x": "independent", "y": "independent"}, "scale": {"color": "independent", "strokeDash": "independent"}}
    },
    {
      "layer": [
        {
          "data": {"name": "bLeft"},
          "mark": {"type": "line", "strokeWidth": 4.5},
          "encoding": {
            "x": {"field": "x", "type": "quantitative",
              "scale": {"domain": [0.1, 3], "range": [2021, 2403], "nice": false, "zero": false},
              "axis": {"orient": "bottom", "offset": -1970, "values": [1, 2, 3], "labelExpr": "toString(datum.value)", "title": "d − a [μm]", "labelFontSize": 46, "titleFontSize": 54, "tickSize": -12, "labelPadding": 26, "titlePadding": 15}},
            "y": {"field": "y", "type": "quantitative",
              "scale": {"domain": [-40, 40], "range": [764, 460], "nice": false, "zero": false},
              "axis": {"orient": "left", "offset": -2021, "values": [-40, -20, 0, 20, 40], "labelExpr": "toString(datum.value)", "title": "βΦ(d)", "labelFontSize": 46, "titleFontSize": 54, "tickSize": -12, "labelPadding": 22, "titlePadding": 20}},
            "color": {"field": "k", "type": "nominal", "legend": null,
              "scale": {"domain": ["0.9", "0.8", "0.7", "0.6", "0.5", "0.4", "0.25"], "range": ["#008000", "#008000", "#008000", "#BF00BF", "#BF00BF", "#BF00BF", "#BF00BF"]}},
            "strokeDash": {"field": "k", "type": "nominal", "legend": null,
              "scale": {"domain": ["0.9", "0.8", "0.7", "0.6", "0.5", "0.4", "0.25"], "range": [[1, 0], [26, 14], [6, 8], [1, 0], [26, 14], [6, 8], [26, 10, 6, 10]]}}
          }
        },
        {
          "data": {"values": [{}]},
          "mark": {"type": "rect", "filled": false, "stroke": "#262626", "strokeWidth": 3},
          "encoding": {
            "x": {"datum": 0.1, "type": "quantitative", "axis": {"orient": "top", "offset": -460, "values": [1, 2, 3], "labels": false, "title": null, "tickSize": -12}},
            "x2": {"datum": 3},
            "y": {"datum": -40, "type": "quantitative", "axis": {"orient": "right", "offset": -705, "values": [-40, -20, 0, 20, 40], "labels": false, "title": null, "tickSize": -12}},
            "y2": {"datum": 40}
          }
        }
      ],
      "resolve": {"axis": {"x": "independent", "y": "independent"}}
    },
    {
      "layer": [
        {
          "data": {"values": [{}]},
          "mark": {"type": "rule", "color": "#808080", "strokeWidth": 4, "strokeDash": [6, 8]},
          "encoding": {
            "x": {"datum": 1e-4, "type": "quantitative", "scale": {"type": "log", "domain": [1e-4, 50], "range": [2642, 3023], "nice": false}, "axis": null},
            "x2": {"datum": 50},
            "y": {"datum": 0, "type": "quantitative", "axis": null}
          }
        },
        {
          "data": {"name": "bRight"},
          "mark": {"type": "line", "strokeWidth": 4.5},
          "encoding": {
            "x": {"field": "x", "type": "quantitative",
              "scale": {"type": "log", "domain": [1e-4, 50], "range": [2642, 3023], "nice": false},
              "axis": {"orient": "bottom", "offset": -1817, "values": [1e-4, 0.01, 1], "title": "d − a [μm]", "labelFontSize": 46, "titleFontSize": 54, "tickSize": -12, "labelPadding": 28, "titlePadding": 13,
                "labelExpr": "'10' + (round(log(datum.value)/LN10) < 0 ? '⁻' : '') + ['⁰','¹','²','³','⁴','⁵','⁶','⁷','⁸','⁹'][abs(round(log(datum.value)/LN10)) % 10]"}},
            "y": {"field": "y", "type": "quantitative",
              "scale": {"domain": [-2000, 1000], "range": [917, 475], "nice": false, "zero": false},
              "axis": {"orient": "left", "offset": -2642, "values": [-2000, -1000, 0, 1000], "labelExpr": "toString(datum.value)", "title": "Z", "labelFontSize": 46, "titleFontSize": 54, "tickSize": -12, "labelPadding": 22, "titlePadding": 12}},
            "color": {"field": "k", "type": "nominal", "legend": null,
              "scale": {"domain": ["0.9", "0.8", "0.7", "0.6", "0.5", "0.4"], "range": ["#008000", "#008000", "#008000", "#BF00BF", "#BF00BF", "#BF00BF"]}},
            "strokeDash": {"field": "k", "type": "nominal", "legend": null,
              "scale": {"domain": ["0.9", "0.8", "0.7", "0.6", "0.5", "0.4"], "range": [[1, 0], [26, 14], [6, 8], [1, 0], [26, 14], [6, 8]]}}
          }
        },
        {
          "data": {"values": [{}]},
          "mark": {"type": "rect", "filled": false, "stroke": "#262626", "strokeWidth": 3},
          "encoding": {
            "x": {"datum": 1e-4, "type": "quantitative", "scale": {"type": "log"}, "axis": {"orient": "top", "offset": -475, "values": [1e-4, 0.01, 1], "labels": false, "title": null, "tickSize": -12}},
            "x2": {"datum": 50},
            "y": {"datum": -2000, "type": "quantitative", "axis": {"orient": "right", "offset": -85, "values": [-2000, -1000, 0, 1000], "labels": false, "title": null, "tickSize": -12}},
            "y2": {"datum": 1000}
          }
        }
      ],
      "resolve": {"axis": {"x": "independent", "y": "independent"}}
    },
    {
      "layer": [
        {
          "data": {"name": "cRho"},
          "mark": {"type": "line", "strokeWidth": 4.5},
          "encoding": {
            "x": {"field": "x", "type": "quantitative",
              "scale": {"type": "log", "domain": [0.1, 10], "range": [558, 1080], "nice": false},
              "axis": {"orient": "bottom", "offset": -221, "values": [0.1, 1, 10], "title": "κₒ⁻¹[μm]", "labelPadding": 36, "titlePadding": 27,
                "labelExpr": "'10' + (round(log(datum.value)/LN10) < 0 ? '⁻' : '') + ['⁰','¹','²','³','⁴','⁵','⁶','⁷','⁸','⁹'][abs(round(log(datum.value)/LN10)) % 10]"}},
            "y": {"field": "y", "type": "quantitative",
              "scale": {"type": "log", "domain": [1e-11, 1e-6], "range": [2513, 1604], "nice": false},
              "axis": {"orient": "left", "offset": -558, "values": [1e-11, 1e-10, 1e-9, 1e-8, 1e-7, 1e-6], "title": "ρᵒTBA⁺[M]", "titlePadding": 13,
                "labelExpr": "'10' + (round(log(datum.value)/LN10) < 0 ? '⁻' : '') + (abs(round(log(datum.value)/LN10)) >= 10 ? '¹' : '') + ['⁰','¹','²','³','⁴','⁵','⁶','⁷','⁸','⁹'][abs(round(log(datum.value)/LN10)) % 10]"}},
            "color": {"field": "s", "type": "nominal", "legend": null,
              "scale": {"domain": ["m", "g", "r", "b"], "range": ["#BF00BF", "#008000", "#FF0000", "#0072BD"]}}
          }
        },
        {
          "data": {"values": [{}]},
          "mark": {"type": "rect", "filled": false, "stroke": "#262626", "strokeWidth": 3},
          "encoding": {
            "x": {"datum": 0.1, "type": "quantitative", "scale": {"type": "log"}, "axis": {"orient": "top", "offset": -1604, "values": [0.1, 1, 10], "labels": false, "title": null}},
            "x2": {"datum": 10},
            "y": {"datum": 1e-11, "type": "quantitative", "scale": {"type": "log"}, "axis": {"orient": "right", "offset": -2028, "values": [1e-11, 1e-10, 1e-9, 1e-8, 1e-7, 1e-6], "labels": false, "title": null}},
            "y2": {"datum": 1e-6}
          }
        },
        {
          "data": {"values": [{}]},
          "mark": {"type": "point", "opacity": 0},
          "encoding": {
            "x": {"datum": 1, "type": "quantitative", "scale": {"type": "log"}, "axis": {"orient": "bottom", "offset": -221, "tickSize": -9, "labels": false, "title": null, "values": [0.2,0.3,0.4,0.5,0.6,0.7,0.8,0.9,2,3,4,5,6,7,8,9]}},
            "y": {"datum": 1e-8, "type": "quantitative", "scale": {"type": "log"}, "axis": {"orient": "left", "offset": -558, "tickSize": -9, "labels": false, "title": null, "values": [2e-11,3e-11,4e-11,5e-11,6e-11,7e-11,8e-11,9e-11,2e-10,3e-10,4e-10,5e-10,6e-10,7e-10,8e-10,9e-10,2e-9,3e-9,4e-9,5e-9,6e-9,7e-9,8e-9,9e-9,2e-8,3e-8,4e-8,5e-8,6e-8,7e-8,8e-8,9e-8,2e-7,3e-7,4e-7,5e-7,6e-7,7e-7,8e-7,9e-7]}}
          }
        },
        {
          "data": {"values": [{}]},
          "mark": {"type": "point", "opacity": 0},
          "encoding": {
            "x": {"datum": 1, "type": "quantitative", "scale": {"type": "log"}, "axis": {"orient": "top", "offset": -1604, "tickSize": -9, "labels": false, "title": null, "values": [0.2,0.3,0.4,0.5,0.6,0.7,0.8,0.9,2,3,4,5,6,7,8,9]}},
            "y": {"datum": 1e-8, "type": "quantitative", "scale": {"type": "log"}, "axis": {"orient": "right", "offset": -2028, "tickSize": -9, "labels": false, "title": null, "values": [2e-11,3e-11,4e-11,5e-11,6e-11,7e-11,8e-11,9e-11,2e-10,3e-10,4e-10,5e-10,6e-10,7e-10,8e-10,9e-10,2e-9,3e-9,4e-9,5e-9,6e-9,7e-9,8e-9,9e-9,2e-8,3e-8,4e-8,5e-8,6e-8,7e-8,8e-8,9e-8,2e-7,3e-7,4e-7,5e-7,6e-7,7e-7,8e-7,9e-7]}}
          }
        },
        {
          "data": {"values": [{}]},
          "mark": {"type": "text", "text": "(c)", "fontSize": 80, "font": "Liberation Serif", "color": "black"},
          "encoding": {
            "x": {"datum": 0.195, "type": "quantitative", "scale": {"type": "log"}, "axis": null},
            "y": {"datum": 4e-11, "type": "quantitative", "scale": {"type": "log"}, "axis": null}
          }
        }
      ],
      "resolve": {"axis": {"x": "independent", "y": "independent"}}
    },
    {
      "layer": [
        {
          "data": {"values": [{}]},
          "mark": {"type": "rule", "color": "#808080", "strokeWidth": 4, "strokeDash": [6, 8]},
          "encoding": {
            "x": {"datum": 0.1, "type": "quantitative", "scale": {"type": "log", "domain": [0.1, 10], "range": [1398, 1925], "nice": false}, "axis": null},
            "x2": {"datum": 10},
            "y": {"datum": 0, "type": "quantitative", "axis": null}
          }
        },
        {
          "data": {"name": "dPhi"},
          "mark": {"type": "line", "strokeWidth": 4.5},
          "encoding": {
            "x": {"field": "x", "type": "quantitative",
              "scale": {"type": "log", "domain": [0.1, 10], "range": [1398, 1925], "nice": false},
              "axis": {"orient": "bottom", "offset": -221, "values": [0.1, 1, 10], "title": "κₒ⁻¹[μm]", "labelPadding": 36, "titlePadding": 27,
                "labelExpr": "'10' + (round(log(datum.value)/LN10) < 0 ? '⁻' : '') + ['⁰','¹','²','³','⁴','⁵','⁶','⁷','⁸','⁹'][abs(round(log(datum.value)/LN10)) % 10]"}},
            "y": {"field": "y", "type": "quantitative",
              "scale": {"domain": [-0.5, 2], "range": [2513, 1604], "nice": false, "zero": false},
              "axis": {"orient": "left", "offset": -1398, "values": [-0.5, 0, 0.5, 1, 1.5, 2], "labelExpr": "toString(datum.value)", "title": "ϕD", "titlePadding": 28}},
            "color": {"field": "s", "type": "nominal", "legend": null,
              "scale": {"domain": ["m", "g", "r", "b"], "range": ["#BF00BF", "#008000", "#FF0000", "#0072BD"]}}
          }
        },
        {
          "data": {"values": [{}]},
          "mark": {"type": "rect", "filled": false, "stroke": "#262626", "strokeWidth": 3},
          "encoding": {
            "x": {"datum": 0.1, "type": "quantitative", "scale": {"type": "log"}, "axis": {"orient": "top", "offset": -1604, "values": [0.1, 1, 10], "labels": false, "title": null}},
            "x2": {"datum": 10},
            "y": {"datum": -0.5, "type": "quantitative", "axis": {"orient": "right", "offset": -1183, "values": [-0.5, 0, 0.5, 1, 1.5, 2], "labels": false, "title": null}},
            "y2": {"datum": 2}
          }
        },
        {
          "data": {"values": [{}]},
          "mark": {"type": "point", "opacity": 0},
          "encoding": {
            "x": {"datum": 1, "type": "quantitative", "scale": {"type": "log"}, "axis": {"orient": "bottom", "offset": -221, "tickSize": -9, "labels": false, "title": null, "values": [0.2,0.3,0.4,0.5,0.6,0.7,0.8,0.9,2,3,4,5,6,7,8,9]}},
            "y": {"datum": 0, "type": "quantitative", "axis": {"orient": "left", "offset": -1398, "tickSize": -9, "labels": false, "title": null, "values": [-0.375,-0.25,-0.125,0.125,0.25,0.375,0.625,0.75,0.875,1.125,1.25,1.375,1.625,1.75,1.875]}}
          }
        },
        {
          "data": {"values": [{}]},
          "mark": {"type": "point", "opacity": 0},
          "encoding": {
            "x": {"datum": 1, "type": "quantitative", "scale": {"type": "log"}, "axis": {"orient": "top", "offset": -1604, "tickSize": -9, "labels": false, "title": null, "values": [0.2,0.3,0.4,0.5,0.6,0.7,0.8,0.9,2,3,4,5,6,7,8,9]}},
            "y": {"datum": 0, "type": "quantitative", "axis": {"orient": "right", "offset": -1183, "tickSize": -9, "labels": false, "title": null, "values": [-0.375,-0.25,-0.125,0.125,0.25,0.375,0.625,0.75,0.875,1.125,1.25,1.375,1.625,1.75,1.875]}}
          }
        },
        {
          "data": {"values": [{}]},
          "mark": {"type": "text", "text": "(d)", "fontSize": 80, "font": "Liberation Serif", "color": "black"},
          "encoding": {
            "x": {"datum": 0.19, "type": "quantitative", "scale": {"type": "log"}, "axis": null},
            "y": {"datum": -0.2, "type": "quantitative", "axis": null}
          }
        }
      ],
      "resolve": {"axis": {"x": "independent", "y": "independent"}}
    },
    {
      "layer": [
        {
          "data": {"values": [{}]},
          "mark": {"type": "rule", "color": "#808080", "strokeWidth": 4, "strokeDash": [6, 8]},
          "encoding": {
            "x": {"datum": 0.1, "type": "quantitative", "scale": {"type": "log", "domain": [0.1, 10], "range": [2238, 2763], "nice": false}, "axis": null},
            "x2": {"datum": 10},
            "y": {"datum": 0, "type": "quantitative", "axis": null}
          }
        },
        {
          "data": {"name": "eZ"},
          "mark": {"type": "line", "strokeWidth": 4.5},
          "encoding": {
            "x": {"field": "x", "type": "quantitative",
              "scale": {"type": "log", "domain": [0.1, 10], "range": [2238, 2763], "nice": false},
              "axis": {"orient": "bottom", "offset": -221, "values": [0.1, 1, 10], "title": "κₒ⁻¹[μm]", "labelPadding": 36, "titlePadding": 27,
                "labelExpr": "'10' + (round(log(datum.value)/LN10) < 0 ? '⁻' : '') + ['⁰','¹','²','³','⁴','⁵','⁶','⁷','⁸','⁹'][abs(round(log(datum.value)/LN10)) % 10]"}},
            "y": {"field": "y", "type": "quantitative",
              "scale": {"domain": [-3000, 3000], "range": [2513, 1604], "nice": false, "zero": false},
              "axis": {"orient": "left", "offset": -2238, "values": [-3000, -2000, -1000, 0, 1000, 2000, 3000], "labelExpr": "toString(datum.value)", "title": "Z", "titlePadding": 42}},
            "color": {"field": "s", "type": "nominal", "legend": null,
              "scale": {"domain": ["m", "g", "r", "b"], "range": ["#BF00BF", "#008000", "#FF0000", "#0072BD"]}},
            "strokeDash": {"field": "c", "type": "nominal", "legend": null,
              "scale": {"domain": ["inf", "d4"], "range": [[1, 0], [30, 18]]}}
          }
        },
        {
          "data": {"values": [{}]},
          "mark": {"type": "rect", "filled": false, "stroke": "#262626", "strokeWidth": 3},
          "encoding": {
            "x": {"datum": 0.1, "type": "quantitative", "scale": {"type": "log"}, "axis": {"orient": "top", "offset": -1604, "values": [0.1, 1, 10], "labels": false, "title": null}},
            "x2": {"datum": 10},
            "y": {"datum": -3000, "type": "quantitative", "axis": {"orient": "right", "offset": -345, "values": [-3000, -2000, -1000, 0, 1000, 2000, 3000], "labels": false, "title": null}},
            "y2": {"datum": 3000}
          }
        },
        {
          "data": {"values": [{}]},
          "mark": {"type": "point", "opacity": 0},
          "encoding": {
            "x": {"datum": 1, "type": "quantitative", "scale": {"type": "log"}, "axis": {"orient": "bottom", "offset": -221, "tickSize": -9, "labels": false, "title": null, "values": [0.2,0.3,0.4,0.5,0.6,0.7,0.8,0.9,2,3,4,5,6,7,8,9]}},
            "y": {"datum": 0, "type": "quantitative", "axis": {"orient": "left", "offset": -2238, "tickSize": -9, "labels": false, "title": null, "values": [-2750,-2500,-2250,-1750,-1500,-1250,-750,-500,-250,250,500,750,1250,1500,1750,2250,2500,2750]}}
          }
        },
        {
          "data": {"values": [{}]},
          "mark": {"type": "point", "opacity": 0},
          "encoding": {
            "x": {"datum": 1, "type": "quantitative", "scale": {"type": "log"}, "axis": {"orient": "top", "offset": -1604, "tickSize": -9, "labels": false, "title": null, "values": [0.2,0.3,0.4,0.5,0.6,0.7,0.8,0.9,2,3,4,5,6,7,8,9]}},
            "y": {"datum": 0, "type": "quantitative", "axis": {"orient": "right", "offset": -345, "tickSize": -9, "labels": false, "title": null, "values": [-2750,-2500,-2250,-1750,-1500,-1250,-750,-500,-250,250,500,750,1250,1500,1750,2250,2500,2750]}}
          }
        },
        {
          "data": {"values": [{}]},
          "mark": {"type": "text", "text": "(e)", "fontSize": 80, "font": "Liberation Serif", "color": "black"},
          "encoding": {
            "x": {"datum": 0.171, "type": "quantitative", "scale": {"type": "log"}, "axis": null},
            "y": {"datum": -2280, "type": "quantitative", "axis": null}
          }
        },
        {
          "data": {"values": [{}]},
          "mark": {"type": "text", "text": "Z(∞)", "fontSize": 88, "font": "Liberation Serif", "fontStyle": "italic", "color": "black"},
          "encoding": {
            "x": {"datum": 2.25, "type": "quantitative", "scale": {"type": "log"}, "axis": null},
            "y": {"datum": -1066, "type": "quantitative", "axis": null}
          }
        },
        {
          "data": {"values": [{}]},
          "mark": {"type": "text", "text": "Z|", "fontSize": 74, "font": "Liberation Serif", "fontStyle": "italic", "color": "black", "align": "left"},
          "encoding": {
            "x": {"datum": 0.113, "type": "quantitative", "scale": {"type": "log"}, "axis": null},
            "y": {"datum": 2663, "type": "quantitative", "axis": null}
          }
        },
        {
          "data": {"values": [{}]},
          "mark": {"type": "text", "text": "d−a=10⁻⁴\u00a0\u00a0\u00a0\u00a0μm", "fontSize": 58, "font": "Liberation Serif", "fontStyle": "italic", "color": "black", "align": "left"},
          "encoding": {
            "x": {"datum": 0.21, "type": "quantitative", "scale": {"type": "log"}, "axis": null},
            "y": {"datum": 2560, "type": "quantitative", "axis": null}
          }
        }
      ],
      "resolve": {"axis": {"x": "independent", "y": "independent"}}
    }
  ],
  "resolve": {"scale": {"x": "independent", "y": "independent", "color": "independent", "strokeDash": "independent"}}
}
